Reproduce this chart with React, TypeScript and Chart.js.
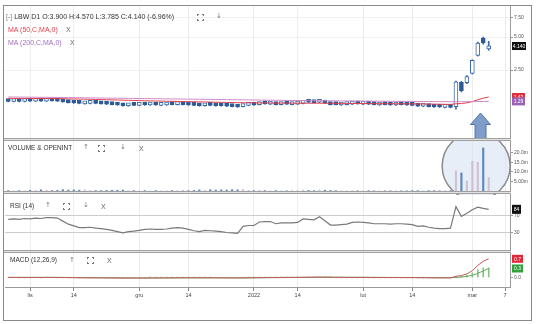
import React, { useEffect, useRef } from "react";
import { Chart, registerables } from "chart.js";

Chart.register(...registerables);

const FONT = "'Liberation Sans', Arial, sans-serif";

// ---- categories / ticks ----
const firstIndex = -4; // trading-day index of first candle ("lis" = 0)
const xTickIndex = [0, 8, 20, 29, 41, 49, 61, 70, 81, 87];
const xTickText = ["lis", "14", "gru", "14", "2022", "14", "lut", "14", "mar", "7"];

const priceTicks = [2.5, 5, 7.5];
const volumeTicksM = [5, 10, 15, 20];
const rsiTicks = [30, 70];
const macdTicks = [0];

// ---- OHLC ----
const opens = [
  1.30, 1.29, 1.30, 1.29,
  1.31, 1.30, 1.31, 1.30, 1.32, 1.31,
  1.30, 1.28, 1.26, 1.25, 1.23, 1.24, 1.25, 1.24, 1.23, 1.22,
  1.21, 1.19, 1.18, 1.20, 1.19, 1.21, 1.20, 1.21, 1.19, 1.20,
  1.22, 1.21, 1.22, 1.21, 1.20, 1.19, 1.18, 1.20, 1.19, 1.19,
  1.18, 1.17, 1.16, 1.16, 1.19, 1.21, 1.21, 1.24, 1.22, 1.22,
  1.21, 1.23, 1.21, 1.22, 1.24, 1.28, 1.27, 1.27, 1.28, 1.24,
  1.22, 1.20, 1.21, 1.22, 1.24, 1.22, 1.23, 1.22, 1.20, 1.22,
  1.21, 1.20, 1.22, 1.21, 1.20, 1.19, 1.17, 1.18, 1.16, 1.16,
  1.14, 1.15, 1.16, 1.93, 1.92, 2.33, 3.40, 4.90, 3.90,
];
const closes = [
  1.29, 1.30, 1.29, 1.30,
  1.30, 1.31, 1.30, 1.31, 1.31, 1.30,
  1.28, 1.26, 1.25, 1.24, 1.24, 1.25, 1.24, 1.23, 1.22, 1.21,
  1.20, 1.18, 1.19, 1.19, 1.20, 1.20, 1.21, 1.20, 1.20, 1.21,
  1.21, 1.22, 1.21, 1.20, 1.19, 1.18, 1.19, 1.19, 1.18, 1.18,
  1.17, 1.16, 1.15, 1.19, 1.20, 1.20, 1.23, 1.23, 1.23, 1.21,
  1.22, 1.22, 1.22, 1.23, 1.27, 1.27, 1.26, 1.29, 1.25, 1.21,
  1.21, 1.21, 1.22, 1.23, 1.23, 1.23, 1.22, 1.21, 1.21, 1.21,
  1.20, 1.21, 1.21, 1.20, 1.19, 1.17, 1.18, 1.16, 1.15, 1.15,
  1.15, 1.14, 1.95, 1.62, 2.18, 3.07, 4.40, 4.45, 4.14,
];
const highs = [
  1.31, 1.31, 1.31, 1.31,
  1.32, 1.32, 1.32, 1.32, 1.33, 1.32,
  1.31, 1.29, 1.27, 1.26, 1.25, 1.26, 1.26, 1.25, 1.24, 1.23,
  1.22, 1.20, 1.20, 1.21, 1.21, 1.22, 1.22, 1.22, 1.21, 1.22,
  1.23, 1.23, 1.23, 1.22, 1.21, 1.20, 1.20, 1.21, 1.20, 1.20,
  1.19, 1.18, 1.17, 1.20, 1.21, 1.22, 1.24, 1.25, 1.24, 1.23,
  1.23, 1.24, 1.23, 1.24, 1.28, 1.29, 1.28, 1.30, 1.29, 1.25,
  1.23, 1.22, 1.23, 1.24, 1.25, 1.24, 1.24, 1.23, 1.22, 1.23,
  1.22, 1.22, 1.23, 1.22, 1.21, 1.20, 1.19, 1.19, 1.17, 1.17,
  1.16, 1.16, 1.98, 1.97, 2.22, 3.10, 4.50, 5.00, 4.57,
];
const lows = [
  1.28, 1.28, 1.28, 1.28,
  1.29, 1.29, 1.29, 1.29, 1.30, 1.29,
  1.27, 1.25, 1.24, 1.23, 1.22, 1.23, 1.23, 1.22, 1.21, 1.20,
  1.19, 1.17, 1.17, 1.18, 1.18, 1.19, 1.19, 1.19, 1.18, 1.19,
  1.20, 1.20, 1.20, 1.19, 1.18, 1.17, 1.17, 1.18, 1.17, 1.17,
  1.16, 1.15, 1.14, 1.15, 1.18, 1.19, 1.20, 1.22, 1.21, 1.20,
  1.20, 1.21, 1.20, 1.21, 1.23, 1.26, 1.25, 1.26, 1.24, 1.20,
  1.20, 1.19, 1.20, 1.21, 1.22, 1.21, 1.21, 1.20, 1.19, 1.20,
  1.19, 1.19, 1.20, 1.19, 1.18, 1.16, 1.16, 1.15, 1.14, 1.14,
  1.13, 1.13, 1.10, 1.58, 1.88, 2.30, 3.35, 4.30, 3.785,
];

// ---- moving averages ----
const ma50 = [
  1.380, 1.379, 1.378, 1.377, 1.376, 1.375, 1.374, 1.373, 1.372, 1.370,
  1.368, 1.365, 1.362, 1.359, 1.356, 1.352, 1.348, 1.344, 1.340, 1.336,
  1.332, 1.328, 1.324, 1.320, 1.316, 1.312, 1.308, 1.305, 1.302, 1.299,
  1.296, 1.293, 1.290, 1.287, 1.284, 1.281, 1.278, 1.275, 1.272, 1.269,
  1.266, 1.263, 1.260, 1.258, 1.256, 1.254, 1.253, 1.252, 1.251, 1.250,
  1.249, 1.248, 1.247, 1.246, 1.246, 1.245, 1.245, 1.245, 1.244, 1.243,
  1.242, 1.241, 1.240, 1.239, 1.238, 1.237, 1.236, 1.235, 1.234, 1.233,
  1.232, 1.231, 1.230, 1.229, 1.228, 1.227, 1.225, 1.223, 1.221, 1.219, 1.217, 1.215,
  1.230, 1.238, 1.256, 1.288, 1.340, 1.385, 1.420,
];
const ma200 = [
  1.420, 1.418, 1.417, 1.415, 1.414, 1.412, 1.410, 1.409, 1.407, 1.405,
  1.403, 1.401, 1.399, 1.397, 1.395, 1.393, 1.391, 1.389, 1.387, 1.385,
  1.383, 1.381, 1.379, 1.377, 1.375, 1.373, 1.371, 1.369, 1.367, 1.365,
  1.363, 1.361, 1.359, 1.357, 1.355, 1.353, 1.351, 1.349, 1.347, 1.345,
  1.343, 1.341, 1.339, 1.337, 1.335, 1.333, 1.331, 1.329, 1.327, 1.325,
  1.323, 1.321, 1.319, 1.318, 1.317, 1.315, 1.314, 1.313, 1.311, 1.310,
  1.309, 1.307, 1.306, 1.305, 1.303, 1.302, 1.301, 1.300, 1.299, 1.298,
  1.297, 1.296, 1.295, 1.294, 1.293, 1.292, 1.291, 1.290, 1.289, 1.288, 1.287, 1.286,
  1.286, 1.287, 1.287, 1.288, 1.290, 1.292, 1.294,
];

// ---- volume (millions) ----
const volumesM = [
  0.2, 0.1, 0.2, 0.1, 0.4, 0.3, 0.6, 0.4, 0.2, 0.3,
  0.7, 0.5, 0.6, 0.4, 0.6, 0.3, 0.2, 0.2, 0.3, 0.4,
  0.4, 0.5, 0.2, 0.2, 0.1, 0.2, 0.1, 0.2, 0.1, 0.1,
  0.2, 0.2, 0.1, 0.2, 0.3, 0.6, 0.4, 0.7, 0.5, 0.6,
  0.5, 0.7, 0.6, 0.8, 0.3, 0.2, 0.4, 0.2, 0.1, 0.2,
  0.1, 0.1, 0.2, 0.2, 0.5, 0.3, 0.2, 0.6, 0.4, 0.3,
  0.2, 0.1, 0.1, 0.2, 0.1, 0.1, 0.2, 0.1, 0.1, 0.1,
  0.1, 0.1, 0.1, 0.1, 0.2, 0.2, 0.1, 0.2, 0.2, 0.1, 0.2, 0.2,
  10.5, 9.4, 5.2, 15.5, 15.0, 22.4, 7.0,
];

// ---- RSI(14) ----
const rsi14 = [
  61, 62, 61, 63, 62, 64, 63, 65, 65, 64,
  57, 50, 46, 42, 42, 43, 41, 40, 38, 36,
  33, 30, 33, 34, 36, 38, 39, 38, 38, 39,
  41, 42, 41, 38, 35, 33, 36, 35, 34, 33,
  31, 30, 29, 45, 47, 47, 55, 56, 56, 51,
  53, 53, 53, 54, 62, 61, 60, 67, 58, 48,
  48, 49, 50, 54, 55, 54, 53, 51, 51, 51,
  50, 51, 51, 50, 49, 45, 46, 43, 41, 40, 40, 41,
  90, 68, 75, 83, 89, 86, 84,
];

// ---- MACD(12,26,9) ----
const macdLine = [
  0.004, 0.004, 0.003, 0.003, 0.003, 0.004, 0.003, 0.004, 0.004, 0.003,
  0.001, -0.003, -0.006, -0.009, -0.011, -0.012, -0.013, -0.014, -0.016, -0.017,
  -0.019, -0.021, -0.021, -0.021, -0.020, -0.019, -0.017, -0.016, -0.015, -0.013,
  -0.012, -0.010, -0.009, -0.009, -0.010, -0.011, -0.011, -0.011, -0.012, -0.012,
  -0.013, -0.014, -0.016, -0.013, -0.010, -0.008, -0.004, -0.001, 0.001, 0.002,
  0.003, 0.004, 0.005, 0.006, 0.009, 0.012, 0.013, 0.016, 0.015, 0.011,
  0.008, 0.006, 0.005, 0.005, 0.005, 0.004, 0.003, 0.002, 0.001, 0.000,
  -0.001, -0.001, -0.002, -0.003, -0.004, -0.006, -0.007, -0.009, -0.011, -0.012, -0.013, -0.014,
  0.046, 0.070, 0.130, 0.250, 0.440, 0.590, 0.680,
];
const macdSignal = [
  0.004, 0.004, 0.004, 0.004, 0.004, 0.004, 0.004, 0.004, 0.004, 0.004,
  0.003, 0.002, 0.000, -0.002, -0.004, -0.005, -0.007, -0.008, -0.010, -0.011,
  -0.013, -0.014, -0.016, -0.017, -0.018, -0.018, -0.018, -0.018, -0.017, -0.017,
  -0.016, -0.015, -0.014, -0.013, -0.012, -0.012, -0.012, -0.012, -0.012, -0.012,
  -0.012, -0.013, -0.013, -0.013, -0.013, -0.012, -0.011, -0.009, -0.007, -0.005,
  -0.004, -0.002, -0.001, 0.000, 0.002, 0.004, 0.006, 0.008, 0.009, 0.010,
  0.009, 0.009, 0.008, 0.008, 0.007, 0.007, 0.006, 0.005, 0.005, 0.004,
  0.003, 0.002, 0.001, 0.001, 0.000, -0.002, -0.003, -0.004, -0.006, -0.007, -0.008, -0.009,
  0.002, 0.016, 0.039, 0.081, 0.153, 0.240, 0.328,
];
const macdHist = [
  0.000, 0.000, -0.001, -0.001, -0.001, 0.000, -0.001, 0.000, 0.000, -0.001,
  -0.002, -0.005, -0.006, -0.007, -0.007, -0.007, -0.006, -0.006, -0.006, -0.006,
  -0.006, -0.007, -0.005, -0.004, -0.002, -0.001, 0.001, 0.002, 0.002, 0.004,
  0.004, 0.005, 0.005, 0.004, 0.002, 0.001, 0.001, 0.001, 0.000, 0.000,
  -0.001, -0.001, -0.003, 0.000, 0.003, 0.004, 0.007, 0.008, 0.008, 0.007,
  0.007, 0.006, 0.006, 0.006, 0.007, 0.008, 0.007, 0.008, 0.006, 0.001,
  -0.001, -0.003, -0.003, -0.003, -0.002, -0.003, -0.003, -0.003, -0.004, -0.004,
  -0.004, -0.003, -0.003, -0.004, -0.004, -0.004, -0.004, -0.005, -0.005, -0.005, -0.005, -0.005,
  0.044, 0.054, 0.091, 0.169, 0.287, 0.350, 0.352,
];

// ---- styling ----
const X_MIN = -4.6;
const X_MAX = 87.9;
const CANDLE = "#3a6aa8";
const CANDLE_DOWN = "#2d5b95";
const AXIS = "#9a9a9a";
const AXIS_W = 21;

const xi = (i: number) => firstIndex + i;

function xScale(showLabels: boolean): any {
  return {
    type: "linear",
    min: X_MIN,
    max: X_MAX,
    offset: false,
    afterBuildTicks: (s: any) => {
      s.ticks = xTickIndex.map((v) => ({ value: v }));
    },
    ticks: {
      display: showLabels,
      autoSkip: false,
      maxRotation: 0,
      padding: 1,
      color: "#444",
      font: { size: 5.5, family: FONT },
      callback: (_v: any, i: number) => xTickText[i],
    },
    grid: {
      display: true,
      offset: false,
      color: "rgba(0,0,0,0.07)",
      drawTicks: showLabels,
      tickLength: 4,
      tickColor: "#888",
    },
    border: { display: showLabels, color: AXIS },
    afterFit: (s: any) => {
      s.height = showLabels ? 15 : 0;
      s.paddingLeft = 0;
      s.paddingRight = 0;
    },
  };
}

function yScale(extra: any, ticks: number[], fmt: (v: number) => string, gridColor: string): any {
  return {
    position: "right",
    ...extra,
    afterBuildTicks: (s: any) => {
      s.ticks = ticks.map((v) => ({ value: v }));
    },
    ticks: {
      padding: 1,
      color: "#555",
      font: { size: 5, family: FONT },
      callback: (v: any) => fmt(Number(v)),
    },
    grid: { color: gridColor, drawTicks: true, tickLength: 3, tickColor: "#999" },
    border: { display: true, color: AXIS },
    afterFit: (s: any) => {
      s.width = AXIS_W;
      s.paddingTop = 0;
      s.paddingBottom = 0;
    },
  };
}

const baseOptions = (padding: any) => ({
  animation: false,
  responsive: false,
  events: [],
  layout: { padding, autoPadding: false },
  plugins: { legend: { display: false }, tooltip: { enabled: false } },
});

function drawBox(ctx: any, x: number, y: number, w: number, h: number, bg: string, fg: string, text: string) {
  ctx.save();
  ctx.fillStyle = bg;
  ctx.fillRect(x, y - h / 2, w, h);
  ctx.fillStyle = fg;
  ctx.font = `5px ${FONT}`;
  ctx.textAlign = "center";
  ctx.textBaseline = "middle";
  ctx.fillText(text, x + w / 2, y + 0.5);
  ctx.restore();
}

const priceDecor = {
  id: "priceDecor",
  afterDatasetsDraw(chart: any) {
    const { ctx, scales, chartArea } = chart;
    const cx = scales.x.getPixelForValue(82.5);
    const tip = chartArea.bottom - 25;
    const hb = tip + 11.5;
    ctx.save();
    ctx.beginPath();
    ctx.moveTo(cx, tip);
    ctx.lineTo(cx + 10, hb);
    ctx.lineTo(cx + 5.5, hb);
    ctx.lineTo(cx + 5.5, chartArea.bottom + 4);
    ctx.lineTo(cx - 5.5, chartArea.bottom + 4);
    ctx.lineTo(cx - 5.5, hb);
    ctx.lineTo(cx - 10, hb);
    ctx.closePath();
    ctx.fillStyle = "#7f9dca";
    ctx.fill();
    ctx.strokeStyle = "#54749f";
    ctx.lineWidth = 1;
    ctx.stroke();
    ctx.restore();
  },
  afterDraw(chart: any) {
    const { ctx, scales, chartArea } = chart;
    const y = scales.y;
    const bx = chartArea.right + 2;
    const n = closes.length - 1;
    drawBox(ctx, bx, y.getPixelForValue(ma50[n]), 13, 8, "#e0303f", "#fff", ma50[n].toFixed(2));
    drawBox(ctx, bx, y.getPixelForValue(ma200[n]), 13, 8, "#9b62b3", "#fff", ma200[n].toFixed(2));
    drawBox(ctx, bx, y.getPixelForValue(closes[n]), 14, 8, "#111", "#fff", closes[n].toFixed(3));
  },
};

const volumeDecor = {
  id: "volumeDecor",
  beforeDatasetsDraw(chart: any) {
    const { ctx, scales, chartArea } = chart;
    const cx = scales.x.getPixelForValue(81.7);
    const cy = chartArea.top + 25;
    ctx.save();
    ctx.beginPath();
    ctx.arc(cx, cy, 34, 0, Math.PI * 2);
    ctx.fillStyle = "rgba(214,224,240,0.55)";
    ctx.fill();
    ctx.strokeStyle = "#8a8a8a";
    ctx.lineWidth = 1.5;
    ctx.stroke();
    ctx.restore();
  },
};

const rsiDecor = {
  id: "rsiDecor",
  afterDraw(chart: any) {
    const { ctx, scales, chartArea } = chart;
    const v = rsi14[rsi14.length - 1];
    drawBox(ctx, chartArea.right + 2, scales.y.getPixelForValue(v), 9, 9, "#111", "#fff", String(v));
  },
};

const macdDecor = {
  id: "macdDecor",
  afterDraw(chart: any) {
    const { ctx, scales, chartArea } = chart;
    const n = macdLine.length - 1;
    drawBox(ctx, chartArea.right + 2, scales.y.getPixelForValue(macdLine[n]), 11, 8, "#e0283a", "#fff", macdLine[n].toFixed(1));
    drawBox(ctx, chartArea.right + 2, scales.y.getPixelForValue(macdSignal[n]), 11, 8, "#2fa23c", "#fff", macdSignal[n].toFixed(1));
  },
};

function Corners({ left, top }: { left: number; top: number }) {
  const c = "1px solid #777";
  const s: React.CSSProperties = { position: "absolute", width: 2, height: 2, boxSizing: "border-box" };
  return (
    <div style={{ position: "absolute", left, top, width: 7, height: 7 }}>
      <div style={{ ...s, left: 0, top: 0, borderLeft: c, borderTop: c }} />
      <div style={{ ...s, right: 0, top: 0, borderRight: c, borderTop: c }} />
      <div style={{ ...s, left: 0, bottom: 0, borderLeft: c, borderBottom: c }} />
      <div style={{ ...s, right: 0, bottom: 0, borderRight: c, borderBottom: c }} />
    </div>
  );
}

function T({ x, y, size, color, children, family }: any) {
  return (
    <div
      style={{
        position: "absolute",
        left: x,
        top: y,
        fontSize: size,
        lineHeight: 1,
        color,
        whiteSpace: "nowrap",
        fontFamily: family || FONT,
      }}
    >
      {children}
    </div>
  );
}

function Sep({ top }: { top: number }) {
  return (
    <div
      style={{
        position: "absolute",
        left: 4,
        top,
        width: 507,
        height: 3,
        boxSizing: "border-box",
        background: "#e2e2e2",
        borderTop: "1px solid #a0a0a0",
        borderBottom: "1px solid #a0a0a0",
      }}
    />
  );
}

export default function App() {
  const priceRef = useRef<HTMLCanvasElement>(null);
  const volRef = useRef<HTMLCanvasElement>(null);
  const rsiRef = useRef<HTMLCanvasElement>(null);
  const macdRef = useRef<HTMLCanvasElement>(null);

  useEffect(() => {
    Chart.defaults.font.family = FONT;
    const up = closes.map((c, i) => c >= opens[i]);

    const price = new Chart(priceRef.current as any, {
      type: "bar",
      data: {
        datasets: [
          {
            type: "line",
            data: ma200.map((v, i) => ({ x: xi(i), y: v })),
            borderColor: "#cf8ac6",
            borderWidth: 1,
            pointRadius: 0,
            order: 0,
          },
          {
            type: "line",
            data: ma50.map((v, i) => ({ x: xi(i), y: v })),
            borderColor: "#e0404f",
            borderWidth: 1,
            pointRadius: 0,
            order: 0,
          },
          {
            type: "bar",
            data: opens.map((o, i) => ({ x: xi(i), y: [o, closes[i]] })),
            backgroundColor: up.map((u) => (u ? "#ffffff" : CANDLE_DOWN)),
            borderColor: up.map((u) => (u ? CANDLE : CANDLE_DOWN)),
            borderWidth: 1,
            borderSkipped: false,
            barThickness: 4,
            minBarLength: 3,
            grouped: false,
            order: 1,
          },
          {
            type: "bar",
            data: lows.map((l, i) => ({ x: xi(i), y: [l, highs[i]] })),
            backgroundColor: CANDLE,
            borderWidth: 0,
            barThickness: 1,
            grouped: false,
            order: 2,
          },
        ] as any,
      },
      options: {
        ...baseOptions(0),
        scales: {
          x: xScale(false),
          y: yScale({ type: "logarithmic", min: 0.6, max: 9.59 }, priceTicks, (v) => v.toFixed(2), "rgba(0,0,0,0.05)"),
        },
      } as any,
      plugins: [priceDecor],
    });

    const volume = new Chart(volRef.current as any, {
      type: "bar",
      data: {
        datasets: [
          {
            data: volumesM.map((v, i) => ({ x: xi(i), y: v })),
            backgroundColor: up.map((u) => (u ? "rgba(200,178,196,0.75)" : "#5b88c2")),
            borderWidth: 0,
            barThickness: 1.5,
            grouped: false,
          },
        ] as any,
      },
      options: {
        ...baseOptions({ top: 3, bottom: 4, left: 0, right: 0 }),
        scales: {
          x: xScale(false),
          y: yScale(
            { type: "linear", min: 0, max: 26 },
            volumeTicksM,
            (v) => (v >= 10 ? v.toFixed(1) : v.toFixed(2)) + "m",
            "rgba(0,0,0,0)"
          ),
        },
      } as any,
      plugins: [volumeDecor],
    });

    const rsi = new Chart(rsiRef.current as any, {
      type: "line",
      data: {
        datasets: [
          {
            data: rsi14.map((v, i) => ({ x: xi(i), y: v })),
            borderColor: "#7a7a7a",
            borderWidth: 1.2,
            pointRadius: 0,
          },
        ],
      },
      options: {
        ...baseOptions(0),
        scales: {
          x: xScale(false),
          y: yScale({ type: "linear", min: -9, max: 119 }, rsiTicks, (v) => String(v), "#cccccc"),
        },
      } as any,
      plugins: [rsiDecor],
    });

    const macd = new Chart(macdRef.current as any, {
      type: "bar",
      data: {
        datasets: [
          {
            type: "line",
            data: macdLine.map((v, i) => ({ x: xi(i), y: v })),
            borderColor: "#c4585c",
            borderWidth: 1,
            pointRadius: 0,
            order: 0,
          },
          {
            type: "line",
            data: macdSignal.map((v, i) => ({ x: xi(i), y: v })),
            borderColor: "#62a85e",
            borderWidth: 1,
            pointRadius: 0,
            order: 0,
          },
          {
            type: "bar",
            data: macdHist.map((v, i) => ({ x: xi(i), y: v })),
            backgroundColor: macdHist.map((v) => (v >= 0 ? "#86c486" : "#e2a0a0")),
            borderWidth: 0,
            barThickness: 1,
            grouped: false,
            order: 1,
          },
        ] as any,
      },
      options: {
        ...baseOptions(0),
        scales: {
          x: xScale(true),
          y: yScale({ type: "linear", min: -0.345, max: 0.927 }, macdTicks, (v) => v.toFixed(1), "rgba(0,0,0,0)"),
        },
      } as any,
      plugins: [macdDecor],
    });

    return () => {
      price.destroy();
      volume.destroy();
      rsi.destroy();
      macd.destroy();
    };
  }, []);

  const arrowFont = "'DejaVu Sans', sans-serif";

  return (
    <div
      style={{
        position: "absolute",
        left: 0,
        top: 0,
        width: 536,
        height: 324,
        background: "#fff",
        overflow: "hidden",
        fontFamily: FONT,
      }}
    >
      <canvas ref={priceRef} width={526} height={132} style={{ position: "absolute", left: 5, top: 6 }} />
      <canvas ref={volRef} width={526} height={57} style={{ position: "absolute", left: 5, top: 138 }} />
      <canvas ref={rsiRef} width={526} height={56} style={{ position: "absolute", left: 5, top: 194 }} />
      <canvas ref={macdRef} width={526} height={50} style={{ position: "absolute", left: 5, top: 252 }} />

      <Sep top={138} />
      <Sep top={191} />
      <Sep top={250} />

      <div
        style={{
          position: "absolute",
          left: 3,
          top: 5,
          width: 529,
          height: 316,
          boxSizing: "border-box",
          border: "1px solid #8a8a8a",
        }}
      />

      {/* price panel titles */}
      <T x={6} y={13} size={7} color="#333">
        <span style={{ color: "#888" }}>[-]</span> LBW D1 O:3.900 H:4.570 L:3.785 C:4.140 (-6.96%)
      </T>
      <Corners left={197} top={13.5} />
      <T x={216} y={12.5} size={7} color="#777" family={arrowFont}>↓</T>
      <T x={8} y={25.5} size={7} color="#e0404f">MA (50,C,MA,0)</T>
      <T x={66} y={25.5} size={7} color="#666">X</T>
      <T x={8} y={38.5} size={7} color="#a070c0">MA (200,C,MA,0)</T>
      <T x={70} y={38.5} size={7} color="#666">X</T>

      {/* volume */}
      <T x={8} y={144.5} size={6.5} color="#333">VOLUME &amp; OPENINT</T>
      <T x={83} y={144} size={7} color="#777" family={arrowFont}>↑</T>
      <Corners left={98} top={144.5} />
      <T x={120} y={144} size={7} color="#777" family={arrowFont}>↓</T>
      <T x={139} y={144.5} size={7} color="#666">X</T>

      {/* RSI */}
      <T x={10} y={202.5} size={6.5} color="#333">RSI (14)</T>
      <T x={45} y={202} size={7} color="#777" family={arrowFont}>↑</T>
      <Corners left={63} top={202.5} />
      <T x={83} y={202} size={7} color="#777" family={arrowFont}>↓</T>
      <T x={101} y={202.5} size={7} color="#666">X</T>

      {/* MACD */}
      <T x={10} y={257} size={6.5} color="#333">MACD (12,26,9)</T>
      <T x={69} y={256.5} size={7} color="#777" family={arrowFont}>↑</T>
      <Corners left={87} top={257} />
      <T x={107} y={257} size={7} color="#666">X</T>
    </div>
  );
}
